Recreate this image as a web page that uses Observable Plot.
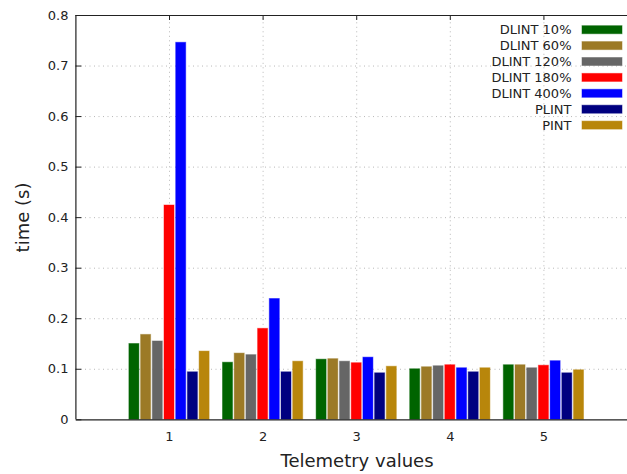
<!DOCTYPE html>
<html>
<head>
<meta charset="utf-8">
<script src="https://cdn.jsdelivr.net/npm/d3@7"></script>
<script src="https://cdn.jsdelivr.net/npm/@observablehq/plot@0.6"></script>
<style>
  html, body { margin: 0; padding: 0; background: #fff; }
  #chart svg { display: block; }
</style>
</head>
<body>
<div id="chart"></div>
<script>
const series = ["DLINT 10%", "DLINT 60%", "DLINT 120%", "DLINT 180%", "DLINT 400%", "PLINT", "PINT"];
const colors = ["#006400", "#9c7a26", "#666666", "#ff0000", "#0000ff", "#000080", "#b8860b"];
const groups = [1, 2, 3, 4, 5];
const dlint10  = [0.150, 0.113, 0.119, 0.100, 0.108];
const dlint60  = [0.168, 0.131, 0.120, 0.104, 0.108];
const dlint120 = [0.155, 0.128, 0.115, 0.106, 0.102];
const dlint180 = [0.424, 0.180, 0.112, 0.108, 0.107];
const dlint400 = [0.746, 0.239, 0.123, 0.102, 0.116];
const plint    = [0.094, 0.094, 0.092, 0.094, 0.092];
const pint     = [0.135, 0.115, 0.105, 0.102, 0.098];
const yTicks = [0, 0.1, 0.2, 0.3, 0.4, 0.5, 0.6, 0.7, 0.8];
const xTicks = [1, 2, 3, 4, 5];

const values = [dlint10, dlint60, dlint120, dlint180, dlint400, plint, pint];
const data = [];
series.forEach((s, i) => groups.forEach((g, j) => data.push({series: s, idx: i, group: g, value: values[i][j]})));

const slot = 0.125, bw = 0.107;
const font = "DejaVu Sans, sans-serif";
const ink = "#222";

function legend(index, scales, vals, dims) {
  const g = d3.create("svg:g").attr("font-family", font).attr("font-size", 13).attr("fill", ink);
  series.forEach((s, i) => {
    const cy = 29.7 + i * 15.9;
    g.append("text").attr("x", 571.5).attr("y", cy).attr("dy", "0.36em").attr("text-anchor", "end").text(s);
    g.append("rect").attr("x", 582).attr("y", cy - 4).attr("width", 40).attr("height", 8)
      .attr("fill", colors[i]).attr("stroke", colors[i]).attr("stroke-opacity", 0.5).attr("stroke-width", 1);
  });
  return g.node();
}

const chart = Plot.plot({
  width: 627,
  height: 474,
  marginTop: 15,
  marginBottom: 55,
  marginLeft: 76,
  marginRight: 0,
  style: {fontFamily: font, color: ink, background: "#fff"},
  x: {domain: [0, 5.893], range: [75.4, 627]},
  y: {domain: [0, 0.8], range: [419.3, 15]},
  color: {domain: series, range: colors},
  marks: [
    Plot.ruleY(yTicks.slice(1, -1), {stroke: "#b8b8b8", strokeDasharray: "1,3.5", strokeWidth: 1}),
    Plot.ruleX(xTicks, {y1: 0, y2: 0.8, stroke: "#b8b8b8", strokeDasharray: "1,3.5", strokeWidth: 1}),
    Plot.rectY(data, {
      x1: d => d.group + (d.idx - 3) * slot - bw / 2,
      x2: d => d.group + (d.idx - 3) * slot + bw / 2,
      y1: 0, y2: "value", fill: "series", stroke: "series", strokeOpacity: 0.45, strokeWidth: 1
    }),
    Plot.ruleY(yTicks, {x1: 0, x2: 6 / 93.6, stroke: ink}),
    Plot.ruleX(xTicks, {y1: 0.8, y2: 0.8 - 5 / 505, stroke: ink}),
    Plot.ruleX([0], {stroke: ink, strokeWidth: 1.2}),
    Plot.ruleY([0, 0.8], {stroke: ink, strokeWidth: 1.2}),
    Plot.axisY({ticks: yTicks, tickSize: 0, tickPadding: 8, fontSize: 13, label: null,
      tickFormat: d => d === 0 ? "0" : d3.format(".1f")(d)}),
    Plot.axisX({ticks: xTicks, tickSize: 0, tickPadding: 12, fontSize: 13, label: null, tickFormat: d => String(d)}),
    Plot.text(["time (s)"], {frameAnchor: "left", textAnchor: "middle", lineAnchor: "middle", dx: -53, rotate: -90, fontSize: 18, fill: ink}),
    Plot.text(["Telemetry values"], {frameAnchor: "bottom", textAnchor: "middle", lineAnchor: "middle", dx: 5, dy: 42, fontSize: 18, fill: ink}),
    legend
  ]
});
document.getElementById("chart").appendChild(chart);
</script>
</body>
</html>
